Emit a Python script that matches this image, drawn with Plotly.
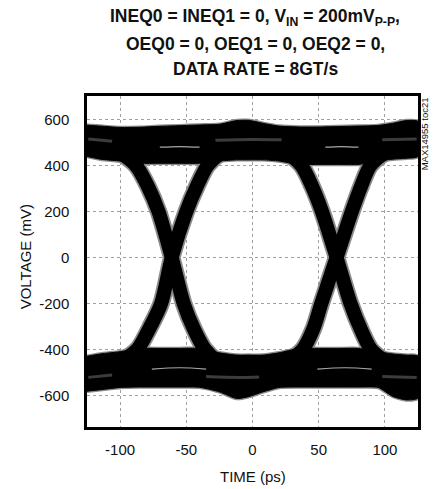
import plotly.graph_objects as go

# ---- values (time in ps, voltage in mV) ----
band_t = [-125, -115, -100, -85, -70, -55, -40, -25, -12, -3, 8, 20, 35, 50, 65, 80, 95, 106, 116, 125]
high_upper = [576, 572, 566, 567, 571, 574, 577, 580, 596, 597, 584, 572, 568, 568, 570, 572, 575, 584, 596, 592]
high_lower = [440, 428, 420, 410, 410, 410, 410, 420, 425, 425, 425, 420, 405, 405, 405, 405, 420, 428, 432, 440]
low_upper = [-430, -420, -410, -396, -396, -396, -396, -415, -425, -425, -425, -415, -396, -396, -396, -396, -410, -420, -425, -430]
low_lower = [-582, -576, -566, -564, -564, -564, -565, -585, -614, -606, -585, -566, -564, -564, -564, -564, -566, -605, -620, -612]

# transitions (leg centre lines)
fall1_t = [-140, -125, -112, -100, -88, -79, -71, -61, -52, -44, -36, -26, -14, 0]
fall1_v = [512, 508, 490, 455, 400, 310, 200, 0, -200, -315, -400, -455, -495, -512]
rise1_t = [-140, -125, -112, -100, -87, -78, -69, -61, -50, -42, -34, -24, -12, 2]
rise1_v = [-515, -510, -490, -455, -400, -310, -200, 0, 200, 310, 400, 455, 492, 510]
fall2_t = [-15, 0, 14, 26, 37, 45, 52.5, 63.5, 74, 82, 89.5, 101, 114, 130]
fall2_v = [512, 510, 490, 455, 400, 310, 200, 0, -200, -315, -400, -455, -495, -512]
rise2_t = [-15, 0, 14, 26, 38, 46, 52, 63.5, 75, 82, 89, 100, 113, 130]
rise2_v = [-515, -512, -490, -455, -400, -310, -200, 0, 200, 310, 400, 455, 492, 510]

# inner streaks of the persistence display
dark_hi_t = [-124, -106, None, -28, 0, 22, None, 98, 124]
dark_hi_v = [516, 506, None, 510, 514, 512, None, 512, 516]
dark_lo_t = [-124, -106, None, -35, -10, 5, None, 98, 124]
dark_lo_v = [-522, -512, None, -518, -522, -520, None, -518, -522]
light_hi_t = [-70, -55, -40, None, 55, 67, 80]
light_hi_v = [480, 483, 480, None, 480, 483, 480]
light_lo_t = [-76, -55, -35, None, 49, 70, 90]
light_lo_v = [-486, -480, -486, None, -486, -480, -486]

x_ticks = [-100, -50, 0, 50, 100]
y_ticks = [-600, -400, -200, 0, 200, 400, 600]

title_lines = ["INEQ0 = INEQ1 = 0, V<sub>IN</sub> = 200mV<sub>P-P</sub>,",
               "OEQ0 = 0, OEQ1 = 0, OEQ2 = 0,",
               "DATA RATE = 8GT/s"]

GRAY = "#8c8c8c"
BLACK = "#000000"

fig = go.Figure()

def band(upper, lower):
    return band_t + band_t[::-1], upper + lower[::-1]

legs = [(fall1_t, fall1_v), (rise1_t, rise1_v), (fall2_t, fall2_v), (rise2_t, rise2_v)]

# gray fringe layer
for up, lo in [(high_upper, high_lower), (low_upper, low_lower)]:
    xs, ys = band(up, lo)
    fig.add_trace(go.Scatter(x=xs, y=ys, mode="lines", fill="toself", fillcolor=GRAY,
                             line=dict(color=GRAY, width=3.5, shape="spline", smoothing=0.6),
                             hoverinfo="skip", showlegend=False))
for lt, lv in legs:
    fig.add_trace(go.Scatter(x=lt, y=lv, mode="lines",
                             line=dict(color=GRAY, width=17.5, shape="spline", smoothing=0.8),
                             hoverinfo="skip", showlegend=False))

# black core layer
for up, lo in [(high_upper, high_lower), (low_upper, low_lower)]:
    xs, ys = band(up, lo)
    fig.add_trace(go.Scatter(x=xs, y=ys, mode="lines", fill="toself", fillcolor=BLACK,
                             line=dict(color=BLACK, width=1, shape="spline", smoothing=0.6),
                             hoverinfo="skip", showlegend=False))
for lt, lv in legs:
    fig.add_trace(go.Scatter(x=lt, y=lv, mode="lines",
                             line=dict(color=BLACK, width=14, shape="spline", smoothing=0.8),
                             hoverinfo="skip", showlegend=False))

# streaks
for st, sv in [(dark_hi_t, dark_hi_v), (dark_lo_t, dark_lo_v)]:
    fig.add_trace(go.Scatter(x=st, y=sv, mode="lines", connectgaps=False,
                             line=dict(color="#3c3c3c", width=3, shape="spline"),
                             hoverinfo="skip", showlegend=False))
for st, sv in [(light_hi_t, light_hi_v), (light_lo_t, light_lo_v)]:
    fig.add_trace(go.Scatter(x=st, y=sv, mode="lines", connectgaps=False,
                             line=dict(color="#a8a8a8", width=1.2, shape="spline"),
                             hoverinfo="skip", showlegend=False))

tick_font = dict(family="Liberation Sans, Arial, sans-serif", size=15, color="#111")
title_font = dict(family="Liberation Sans, Arial, sans-serif", size=17.5, color="#111", weight="bold")

# title line centres in pixels from the top -> paper coordinates (plot spans 96..427 px)
title_y_px = [18, 44, 69]
annotations = [
    dict(text=txt, xref="paper", yref="paper", x=0.508, y=(427 - py) / 331,
         xanchor="center", yanchor="middle", showarrow=False, font=title_font)
    for txt, py in zip(title_lines, title_y_px)
]
annotations += [
    dict(text="TIME (ps)", xref="paper", yref="paper", x=0.5, y=-0.151,
         xanchor="center", yanchor="middle", showarrow=False, font=tick_font),
    dict(text="VOLTAGE (mV)", xref="paper", yref="paper", x=-0.186, y=0.514,
         xanchor="center", yanchor="middle", textangle=-90, showarrow=False, font=tick_font),
    dict(text="MAX14955 toc21", xref="paper", yref="paper", x=1.018, y=0.887,
         xanchor="center", yanchor="middle", textangle=-90, showarrow=False,
         font=dict(family="Liberation Sans, Arial, sans-serif", size=9.5, color="#111")),
]

fig.update_layout(
    width=433, height=489,
    margin=dict(l=87, r=13, t=96, b=62),
    paper_bgcolor="white", plot_bgcolor="white",
    xaxis=dict(range=[-125, 125], tickvals=x_ticks, ticktext=[str(v) for v in x_ticks],
               showgrid=True, gridcolor="#a0a0a0", gridwidth=1, griddash="dot",
               zeroline=False, showline=True, linecolor="black", linewidth=2.5, mirror=True,
               ticks="", ticklabelstandoff=7, tickfont=tick_font),
    yaxis=dict(range=[-738, 703], tickvals=y_ticks, ticktext=[str(v) for v in y_ticks],
               showgrid=True, gridcolor="#a0a0a0", gridwidth=1, griddash="dot",
               zeroline=False, showline=True, linecolor="black", linewidth=2.5, mirror=True,
               ticks="", ticklabelstandoff=12, tickfont=tick_font),
    annotations=annotations,
)

fig.write_html("out.html", config={"displayModeBar": False},
               post_script="document.body.style.margin='0';")
